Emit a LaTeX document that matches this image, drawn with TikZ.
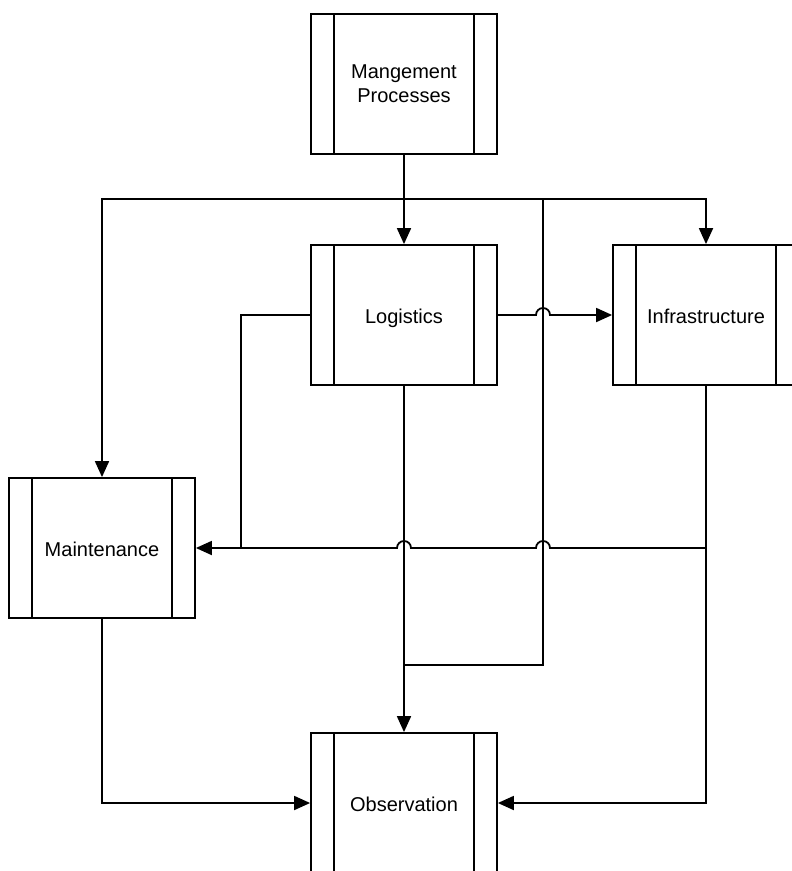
\documentclass[tikz,border=0pt]{standalone}
\usepackage{fontspec}
\setmainfont{Liberation Sans}
\usetikzlibrary{arrows.meta}
\begin{document}
\begin{tikzpicture}[x=1pt,y=-1pt,
  line width=1.8pt,
  proc/.style={draw, line width=1.8pt, minimum width=186pt, minimum height=140pt,
    inner sep=0pt, align=center, font=\fontsize{20}{24}\selectfont,
    path picture={
      \draw[line width=1.8pt] ([xshift=23pt]path picture bounding box.north west) -- ([xshift=23pt]path picture bounding box.south west);
      \draw[line width=1.8pt] ([xshift=-23pt]path picture bounding box.north east) -- ([xshift=-23pt]path picture bounding box.south east);
    }},
  oneline/.style={text height=19pt, text depth=2pt},
  arr/.style={-{Triangle[length=16pt,width=14pt]}}]
\useasboundingbox (0,0) rectangle (792,871);
\node[proc] (mg)  at (404,84)  {Mangement\\Processes};
\node[proc,oneline] (lo)  at (404,315) {Logistics};
\node[proc,oneline] (inf) at (706,315) {Infrastructure};
\node[proc,oneline] (ma)  at (102,548) {Maintenance};
\node[proc,oneline] (ob)  at (404,803) {Observation};

\coordinate (j)  at (404,199);
\coordinate (jr) at (543,199);
\coordinate (jb) at (543,665);
\coordinate (jo) at (404,665);
\coordinate (kl) at (241,548);
\coordinate (ir) at (706,548);

\draw[arr] (mg.south) -- (lo.north);
\draw[arr] (j) -| (ma.north);
\draw[arr] (j) -| (inf.north);
\draw (jr) -- (jb) -- (jo);
\draw[arr] (lo.south) -- (ob.north);
\draw (lo.west) -| (kl);
\draw[arr] (lo.east) -- (536,315) arc[start angle=180,end angle=0,radius=7pt] -- (inf.west);
\draw (inf.south) -- (ir);
\draw[arr] (ir) -- (550,548) arc[start angle=0,end angle=180,radius=7pt] -- (411,548) arc[start angle=0,end angle=180,radius=7pt] -- (ma.east);
\draw[arr] (ir) |- (ob.east);
\draw[arr] (ma.south) |- (ob.west);
\end{tikzpicture}
\end{document}
